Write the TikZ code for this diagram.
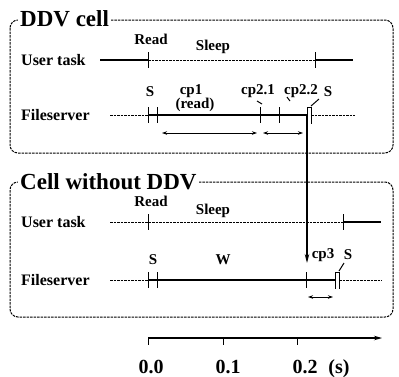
\documentclass[tikz,border=0pt]{standalone}
\usepackage{fontspec}
\setmainfont{Liberation Serif}
\usetikzlibrary{arrows.meta}
\begin{document}
\begin{tikzpicture}[x=1pt,y=-1pt,
  solidl/.style={line width=1.3pt},
  dashl/.style={line width=1pt,dash pattern=on 2.5pt off 1pt},
  tk/.style={line width=1pt},
  boxd/.style={draw,line width=1pt,dash pattern=on 2.5pt off 1pt,rounded corners=8pt},
  lab/.style={font=\bfseries\fontsize{15}{15}\selectfont,inner sep=0pt},
  rowlab/.style={font=\bfseries\fontsize{16}{16}\selectfont,inner sep=0pt,anchor=base west},
  ttl/.style={font=\bfseries\fontsize{23}{23}\selectfont,fill=white,inner sep=2pt,anchor=base west},
  axl/.style={font=\bfseries\fontsize{20}{20}\selectfont,inner sep=0pt,anchor=base},
  dbl/.style={line width=1pt,{Stealth[length=5pt,width=3.5pt]}-{Stealth[length=5pt,width=3.5pt]}}]
\useasboundingbox (0,0) rectangle (399,376);
% ---------- top box
\draw[boxd] (10,20) rectangle (393,153);
\node[ttl] (t1) at (18,26) {DDV cell};
\node[rowlab] (u1) at (21,65) {User task};
\node[rowlab] (f1) at (21,120) {Fileserver};
% user task line
\coordinate (a1) at (100,60); \coordinate (a2) at (148,60);
\coordinate (a3) at (315,60); \coordinate (a4) at (353,60);
\draw[solidl] (a1) -- (a2); \draw[dashl] (a2) -- (a3); \draw[solidl] (a3) -- (a4);
\draw[tk] (148,52) -- (148,68); \draw[tk] (315,52) -- (315,68);
\node[lab,anchor=base] (r1) at (151,44) {Read};
\node[lab,anchor=base] (s1) at (213,50) {Sleep};
% fileserver line
\coordinate (b1) at (110,115); \coordinate (b2) at (148,115);
\coordinate (b3) at (307,115); \coordinate (b4) at (311,115); \coordinate (b5) at (355,115);
\draw[dashl] (b1) -- (b2); \draw[solidl] (b2) -- (b3); \draw[dashl] (b4) -- (b5);
\foreach \x in {148,157,260,279} \draw[tk] (\x,107) -- (\x,123);
\draw[tk] (307,107) -- (307,124); \draw[tk] (311,107) -- (311,124);
\draw[tk] (307,107) -- (311,107);
\draw[tk] (257,101) -- (262,104);
\draw[tk] (287,97) -- (290,101);
\draw[tk] (311,106) -- (319,99);
\node[lab,anchor=base] (sa) at (150,96) {S};
\node[lab,anchor=base] (c1) at (191,94) {cp1};
\node[lab,anchor=base] (c1b) at (195,108) {(read)};
\node[lab,anchor=base] (c21) at (258,94) {cp2.1};
\node[lab,anchor=base] (c22) at (301,94) {cp2.2};
\node[lab,anchor=base] (sb) at (328,96) {S};
\coordinate (d1) at (162,133); \coordinate (d2) at (257,133);
\coordinate (d3) at (263,133); \coordinate (d4) at (303,133);
\draw[dbl] (d1) -- (d2); \draw[dbl] (d3) -- (d4);
% ---------- bottom box
\draw[boxd] (10,182) rectangle (393,317);
\node[ttl] (t2) at (18,189) {Cell without DDV};
\node[rowlab] (u2) at (21,227) {User task};
\node[rowlab] (f2) at (21,285) {Fileserver};
\coordinate (e1) at (110,222); \coordinate (e2) at (343,222); \coordinate (e3) at (381,222);
\draw[dashl] (e1) -- (e2); \draw[solidl] (e2) -- (e3);
\draw[tk] (148,214) -- (148,230); \draw[tk] (343,214) -- (343,230);
\node[lab,anchor=base] (r2) at (151,206) {Read};
\node[lab,anchor=base] (s2) at (213,214) {Sleep};
\coordinate (g1) at (110,280); \coordinate (g2) at (148,280);
\coordinate (g3) at (335,280); \coordinate (g4) at (339,280); \coordinate (g5) at (382,280);
\draw[dashl] (g1) -- (g2); \draw[solidl] (g2) -- (g3); \draw[dashl] (g4) -- (g5);
\foreach \x in {148,157,306} \draw[tk] (\x,272) -- (\x,288);
\draw[tk] (335,272) -- (335,289); \draw[tk] (339,272) -- (339,289);
\draw[tk] (335,272) -- (339,272);
\draw[tk] (339,271) -- (344,263);
\node[lab,anchor=base] (sc) at (153,264) {S};
\node[lab,anchor=base] (w) at (223,264) {W};
\node[lab,anchor=base] (c3) at (323,258) {cp3};
\node[lab,anchor=base] (sd) at (348,259) {S};
\coordinate (h1) at (308,297); \coordinate (h2) at (333,297);
\draw[dbl] (h1) -- (h2);
% ---------- connecting arrow
\coordinate (v1) at (307,115); \coordinate (v2) at (307,263);
\draw[line width=1.3pt,-{Stealth[length=9pt,width=4.5pt]}] (v1) -- (v2);
% ---------- axis
\coordinate (x0) at (148,338); \coordinate (x1) at (382,338);
\draw[line width=1.1pt,-{Stealth[length=8pt,width=4.5pt]}] (x0) -- (x1);
\foreach \x in {148,223,297} \draw[tk] (\x,338) -- (\x,345);
\node[axl] (l0) at (151,373) {0.0};
\node[axl] (l1) at (228,373) {0.1};
\node[axl] (l2) at (305,373) {0.2};
\node[axl] (l3) at (339,373) {(s)};
\end{tikzpicture}
\end{document}
